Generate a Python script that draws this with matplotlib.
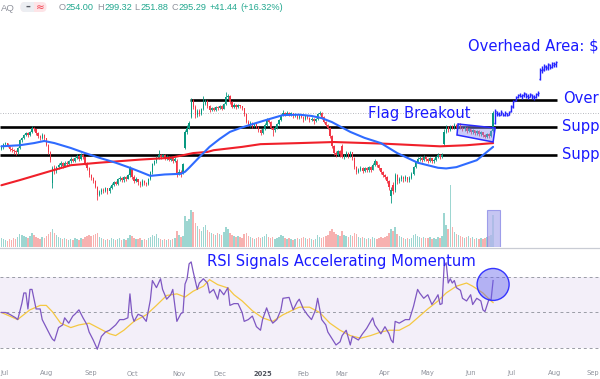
import numpy as np
import matplotlib
matplotlib.use("Agg")
import matplotlib.pyplot as plt
from matplotlib.patches import Polygon, Rectangle, Ellipse, FancyBboxPatch
from matplotlib.transforms import blended_transform_factory
from matplotlib.ticker import NullLocator

# ---------------- data (bar index = trading day from 1 Jul 2024) ----------------
closes = [224,229,231,225,221,219,216,214,222,236,
          240,246,250,246,252,262,258,250,244,240,
          247,240,228,215,201,189,184,190,193,196,
          192,197,195,199,203,200,205,208,203,210,
          206,196,188,178,174,170,162,152,155,158,
          157,160,156,161,165,168,166,172,174,171,
          175,173,178,188,176,170,172,168,165,170,
          167,166,172,182,195,199,205,210,206,209,
          204,207,202,205,200,203,181,183,179,195,
          252,262,272,325,310,290,300,292,305,318,
          325,312,302,306,303,310,306,312,305,318,
          335,340,322,310,316,309,314,311,306,292,
          275,268,272,266,270,264,257,250,259,268,
          280,274,262,256,262,270,278,290,295,292,
          296,290,294,287,292,283,290,286,280,287,
          284,278,282,276,280,292,296,285,275,268,
          262,245,226,213,210,216,212,206,209,213,
          208,214,205,190,183,186,189,184,188,185,
          190,186,194,199,193,188,182,178,175,170,
          162,158,156,178,170,173,176,172,175,171,
          174,180,190,198,203,205,201,206,203,200,
          204,199,202,206,210,206,210,252,263,256,
          265,262,268,265,270,262,258,262,255,258,
          252,256,250,254,248,252,246,243,248,244,
          254,295.29]
opens = [220,224,229,231,225,221,219,216,214,222,
         236,240,246,250,246,252,262,258,250,244,
         240,247,240,228,215,167,189,184,190,193,
         196,192,197,195,199,203,200,205,208,203,
         210,206,196,188,178,174,170,162,152,155,
         158,157,160,156,161,165,168,166,172,174,
         171,175,173,178,188,176,170,172,168,165,
         170,167,166,172,182,195,199,205,210,206,
         209,204,207,202,205,200,200,181,183,181,
         222,252,262,285,325,310,290,300,292,305,
         318,325,312,302,306,303,310,306,312,305,
         318,335,340,322,310,316,309,314,311,306,
         292,275,268,272,266,270,264,257,250,259,
         268,280,274,262,256,262,270,278,290,295,
         292,296,290,294,287,292,283,290,286,280,
         287,284,278,282,276,280,292,296,285,275,
         268,262,245,226,213,210,216,225,206,209,
         213,208,214,205,190,183,186,189,184,188,
         185,190,186,194,199,193,188,182,178,175,
         170,150,165,158,178,170,173,176,172,175,
         171,174,180,190,198,203,205,201,206,203,
         200,204,199,202,206,210,206,230,252,263,
         256,265,262,268,265,270,262,258,262,255,
         258,252,256,250,254,248,252,246,243,248,
         244,254.00]
highs = [228,231,234,232,226,224,221,218,224,238,
         243,249,253,252,255,266,264,260,252,247,
         250,249,241,230,217,192,193,192,196,199,
         198,199,200,201,206,205,207,211,209,213,
         212,207,198,190,180,176,171,163,158,160,
         161,162,161,163,167,170,170,174,177,176,
         177,177,180,191,189,178,175,173,170,172,
         171,169,174,184,197,202,208,218,212,212,
         211,210,208,207,206,206,203,187,185,197,
         256,268,276,333,330,314,305,304,308,339,
         330,327,314,310,309,313,312,316,314,321,
         350,345,342,324,320,318,317,316,313,308,
         294,278,276,274,273,272,266,259,262,271,
         284,283,276,264,265,273,281,293,303,298,
         300,298,297,296,295,293,292,292,288,290,
         290,286,285,283,283,295,300,298,287,277,
         270,263,247,228,216,219,218,230,212,216,
         215,217,215,206,192,189,192,190,190,190,
         192,191,196,203,200,195,189,184,180,177,
         171,162,168,181,179,176,178,177,178,176,
         177,182,192,200,206,208,207,209,208,205,
         206,205,204,208,213,212,213,258,267,266,
         268,267,271,270,273,271,264,265,263,261,
         260,258,257,256,256,254,253,249,250,250,
         256,299.32]
lows = [218,221,226,223,217,215,212,210,212,221,
        233,238,244,243,244,250,254,247,241,236,
        238,235,225,212,198,160,180,181,187,190,
        189,190,192,193,197,198,198,203,200,201,
        203,193,185,176,171,167,160,146,150,153,
        154,155,153,154,159,163,164,165,170,169,
        169,170,172,176,173,167,168,165,162,163,
        164,163,165,171,180,193,197,203,203,204,
        201,202,199,200,197,198,176,178,176,179,
        220,248,259,283,305,283,286,288,290,302,
        315,308,298,299,300,301,303,304,302,304,
        316,330,318,306,307,305,306,307,302,288,
        271,265,264,262,263,261,253,246,248,257,
        266,271,259,244,253,260,268,276,288,288,
        290,287,287,284,285,280,281,283,274,278,
        281,274,276,270,274,278,290,282,272,265,
        258,241,222,209,206,208,207,204,203,207,
        205,206,202,187,180,181,184,181,182,182,
        183,183,185,192,190,185,179,175,172,167,
        158,142,153,155,166,167,170,169,170,168,
        169,172,178,188,196,200,198,199,200,197,
        198,196,197,200,204,203,204,226,250,252,
        254,258,260,261,263,259,254,255,251,252,
        249,249,247,247,245,245,243,240,241,241,
        242,251.88]
volume_m = [9,8,7,6,8,7,9,8,10,13,12,11,10,9,11,14,12,10,9,8,10,9,
            11,13,15,18,14,12,10,9,8,9,8,7,8,7,9,8,7,9,8,10,11,12,
            11,12,13,14,10,9,8,7,8,7,9,8,7,8,9,7,8,7,9,12,
            11,9,8,8,9,7,8,7,9,10,12,11,13,9,8,7,8,7,8,7,8,9,16,
            12,10,11,31,26,28,37,35,24,21,18,16,20,22,17,15,14,13,12,14,
            13,12,15,20,18,14,12,11,10,11,10,9,13,14,11,10,9,8,9,10,9,
            10,11,13,10,9,10,8,9,10,12,11,9,8,9,8,7,8,9,8,9,
            10,9,8,9,8,7,8,12,10,9,10,11,12,16,18,15,13,12,11,
            16,12,11,10,12,11,14,13,10,9,10,9,8,9,8,10,9,8,9,10,9,
            10,11,14,18,16,20,13,11,10,9,8,9,8,9,12,13,11,10,9,10,9,
            9,10,8,9,8,10,9,11,34,22,18,62,20,15,13,12,11,10,9,10,11,
            9,10,8,9,8,9,8,9,10,11,12,32]

ma50_idx = [0,9,16,21,26,34,41,48,56,63,68,73,80,88,90,92,97,102,107,112,
            117,122,130,138,146,152,157,162,171,178,186,194,204,214,218,223,233,241]
ma50_val = [225,227,231,235,231,222,213,205,197,189,183,177,179,180,183,189,206,224,239,253,
            261,268,279,290,291,288,283,274,253,241,231,213,197,189,188,190,201,224]
ma200_idx = [0,9,24,34,48,68,83,94,101,104,118,127,146,163,187,215,228,241]
ma200_val = [164,171,184,193,197,202,205,213,215,218,224,229,231,233,230,225,227,231]

rsi_idx = [0,2,4,7,8,10,11,12,13,14,15,16,17,19,20,22,24,25,26,28,30,31,33,35,36,38,40,42,43,45,
           47,49,51,53,56,58,60,62,63,64,65,67,69,71,73,74,76,78,79,81,83,84,86,88,89,90,91,92,93,94,
           96,97,99,101,102,104,106,107,109,111,112,114,116,118,119,121,123,125,127,128,130,132,133,135,137,138,141,143,145,146,
           148,150,152,154,155,157,159,160,162,164,166,167,169,171,172,175,177,179,182,183,186,188,190,191,192,193,195,198,200,202,
           204,205,207,209,211,213,214,215,216,217,218,219,220,221,222,223,225,226,228,230,231,233,235,236,237,239,240,241]
rsi_val = [50,50,49,47,46,55,61,61,52,63,63,57.5,52,52,46,41.5,37,35,34,41.5,43,47,44,48,49,51.5,47,43,39,34.5,
           29.3,36.5,39,40,43,46,46,47,60.5,48.7,45,49,48,45,57,68,64,69,63,57.5,60,63,45,49.4,50,66,69,77.4,78.5,73,
           63,66.6,69,66.6,61,63,57.5,63,60,64,54,55,55,50,45,46,48,42,40,46,52.6,46,44,46,51.5,58,58.5,51.5,56,57.5,
           52,48.7,46,51.5,58,46,43,39,35.4,31.7,33.5,37,40,31.7,36.5,34.5,38,41,47,43,38,42,38,34.5,33,45,44,46,46,53.5,
           63,61,58,60,54.5,58,60,54.5,55,76,78,66.6,69,66.6,68,64,62.5,58,56.5,60,54.5,58,56.5,51.5,50.5,57.5,57,68]
rsima_idx = [0,4,8,9,14,19,22,25,29,34,38,43,48,53,56,60,65,71,76,81,86,90,94,99,102,106,111,114,118,123,
             128,133,138,143,146,151,156,161,166,171,176,181,186,190,195,200,204,209,214,218,223,228,231,236,240,241]
rsima_val = [50,48,46,47,51.5,54,54,50.4,44,41.5,43,44,41,38,37,40,45,48.7,54,59.6,60.5,58.7,62,64.8,68.5,65.7,63.8,60,56.5,51,
             47,45,48.7,51.5,53,53,50,44,40,37,35.5,37,39,40,40,43,47,52,56.5,61,64.8,66.6,64.8,61,56.5,55.6]

# projected "overhead area" bar path
proj_open = [272,296,292,291,294,290,294,291,299,310,328,336,342,338,341,344,339,337,342,339,336,343,
             390,418,420,430,425,435,428,436,438]
proj_high = [305,300,298,302,296,299,296,300,315,328,338,345,348,344,350,346,344,348,343,342,347,352,
             425,432,438,436,442,440,446,448,450]
proj_low = [270,288,289,290,287,288,289,290,297,308,326,332,335,331,337,333,331,335,330,329,334,339,
            385,408,415,418,420,422,424,428,430]
proj_close = [300,292,291,298,290,296,291,298,312,326,336,342,338,341,346,339,337,344,335,336,345,348,
              420,422,432,428,438,430,442,440,446]

levels = {"overhead": 329, "support1": 264, "support2": 210}
last_close = 295.29
month_idx = [0, 22, 44, 64, 87, 107, 128, 148, 167, 188, 209, 230, 250, 271, 292]
month_lbl = ["Jul", "Aug", "Sep", "Oct", "Nov", "Dec", "2025", "Feb", "Mar", "Apr", "May", "Jun",
             "Jul", "Aug", "Sep"]

# ---------------- figure ----------------
W, H = 600, 379
fig = plt.figure(figsize=(6.0, 3.79), dpi=100)
fig.patch.set_facecolor("white")


def rect(top, bottom):
    return [0, 1 - bottom / H, 1, (bottom - top) / H]


XMIN, XMAX = -0.69, 293.4
axv = fig.add_axes(rect(0, 247))
ax = fig.add_axes(rect(0, 247))
axr = fig.add_axes(rect(249, 365))
ov = fig.add_axes([0, 0, 1, 1], zorder=10)
ov.set_xlim(0, W)
ov.set_ylim(H, 0)
ov.axis("off")
ov.patch.set_alpha(0)

UP, DN = "#089981", "#f23645"
idx = np.arange(len(closes))
o = np.array(opens, float)
c = np.array(closes, float)
hi = np.array(highs, float)
lo = np.array(lows, float)
up = c >= o
cols = np.where(up, UP, DN)

# volume
axv.set_ylim(0, 247)
vcols = np.where(up, "#26a69a", "#ef5350")
axv.bar(idx, volume_m, width=0.7, color=vcols, alpha=0.45, linewidth=0)
axv.add_patch(Rectangle((238, 0), 6.4, 37, facecolor="#b4b4ee", edgecolor="#8686e6",
                        alpha=0.75, linewidth=0.8, zorder=3))

# price
ax.set_yscale("log")
ax.set_ylim(99.3, 738.8)
ax.axhline(last_close, color="#a0a3ab", ls=(0, (1, 2)), lw=0.6, zorder=1)
ax.hlines([levels["support1"], levels["support2"]], XMIN, 272.4, color="black", lw=1.9, zorder=2)
ax.hlines(levels["overhead"], 92.5, 272.4, color="black", lw=1.9, zorder=2)
ax.vlines(idx, lo, hi, colors=cols, lw=0.6, zorder=3)
body_lo = np.minimum(o, c)
body_h = np.maximum(np.abs(c - o), 0.4)
ax.bar(idx, body_h, bottom=body_lo, width=0.62, color=cols, linewidth=0, zorder=4)
ax.plot(ma200_idx, ma200_val, color="#f0202a", lw=1.5, zorder=5, solid_capstyle="round")
ax.plot(ma50_idx, ma50_val, color="#2f6bff", lw=1.5, zorder=5, solid_capstyle="round")

proj_idx = np.arange(242, 242 + len(proj_high))
PB = "#2323ff"
ax.vlines(proj_idx, proj_low, proj_high, colors=PB, lw=1.0, zorder=6)
ax.hlines(proj_open, proj_idx - 0.5, proj_idx, colors=PB, lw=1.0, zorder=6)
ax.hlines(proj_close, proj_idx, proj_idx + 0.5, colors=PB, lw=1.0, zorder=6)

flag = Polygon([(223.8, 269.8), (242, 261.2), (241, 233.1), (223.3, 246.7)], closed=True,
               facecolor=(0.55, 0.55, 0.95, 0.45), edgecolor="#2a2aff", lw=1.1, zorder=6)
ax.add_patch(flag)

# RSI
axr.set_ylim(20.42, 85.77)
axr.axhspan(30, 70, color="#7e57c2", alpha=0.09, lw=0)
for lv in (30, 50, 70):
    axr.axhline(lv, color="#9a9ca6", ls=(0, (3, 3)), lw=0.7)
axr.plot(rsima_idx, rsima_val, color="#f5c842", lw=0.9)
axr.plot(rsi_idx, rsi_val, color="#7e57c2", lw=0.9)
axr.add_patch(Ellipse((241, 65.8), 15.7, 18.0, facecolor=(0.4, 0.4, 0.93, 0.45),
                      edgecolor="#3535ff", lw=1.0, zorder=5))

for a in (axv, ax, axr):
    a.set_xlim(XMIN, XMAX)
    for s in a.spines.values():
        s.set_visible(False)
    a.xaxis.set_major_locator(NullLocator())
    a.xaxis.set_minor_locator(NullLocator())
    a.yaxis.set_major_locator(NullLocator())
    a.yaxis.set_minor_locator(NullLocator())
ax.patch.set_alpha(0)
axr.patch.set_alpha(0)

# pane separator
ov.plot([0, W], [248, 248], color="#c9ccd4", lw=0.9)

# month labels (first and last kept inside the frame)
tr = blended_transform_factory(axr.transData, ov.transData)
last = len(month_idx) - 1
for k, (i, lab) in enumerate(zip(month_idx, month_lbl)):
    bold = lab == "2025"
    kwl = dict(va="baseline", fontsize=4.9,
               color="#50535e" if bold else "#8f929c", fontweight="bold" if bold else "normal")
    if k == 0:
        ov.text(0.8, 375.5, lab, ha="left", **kwl)
    elif k == last:
        ov.text(599.2, 375.5, lab, ha="right", **kwl)
    else:
        ov.text(i, 375.5, lab, transform=tr, ha="center", **kwl)

# header
ov.text(0.8, 11.0, "AQ", ha="left", va="baseline", fontsize=6.8, color="#8f929c",
        family="Liberation Sans")
ov.add_patch(FancyBboxPatch((20.5, 2), 26, 10, boxstyle="round,pad=0,rounding_size=4.5",
                            fc="#fde4e7", ec="none"))
ov.add_patch(FancyBboxPatch((20.5, 2), 17, 10, boxstyle="round,pad=0,rounding_size=4.5",
                            fc="#eceef2", ec="none"))
ov.add_patch(Rectangle((33.5, 2), 4.5, 10, fc="#fde4e7", ec="none"))
ov.text(27.5, 7.2, "\u2013", ha="center", va="center", fontsize=7, color="#555862", fontweight="bold")
ov.text(40, 7.2, "\u2248", ha="center", va="center", fontsize=7.5, color="#f23645")

GR, TL = "#8f929c", "#22a88f"
hdr = [("O", GR, 0), ("254.00", TL, 1), ("H", GR, 0), ("299.32", TL, 1),
       ("L", GR, 0), ("251.88", TL, 1), ("C", GR, 0), ("295.29", TL, 1),
       ("+41.44", TL, 1), ("(+16.32%)", TL, 0)]
renderer = fig.canvas.get_renderer()
xcur = 58.3
space = 2.9
for s, col, gap in hdr:
    t = ov.text(xcur, 10, s, ha="left", va="baseline", fontsize=6.6, color=col,
                family="Liberation Sans")
    bb = t.get_window_extent(renderer=renderer)
    xcur = bb.x1 + (space if gap else 0.6)

# annotations
BL = "#1a1aff"
kw = dict(ha="left", va="baseline", fontsize=10.6, color=BL)
ov.text(467.5, 50.7, "Overhead Area: $", **kw)
ov.text(367.7, 118.3, "Flag Breakout", **kw)
ov.text(563.3, 103.3, "Over", **kw)
ov.text(562.0, 130.5, "Supp", **kw)
ov.text(562.0, 159.3, "Supp", **kw)
ov.text(207.3, 265.7, "RSI Signals Accelerating Momentum", **kw)

fig.savefig("out.png", dpi=100)
